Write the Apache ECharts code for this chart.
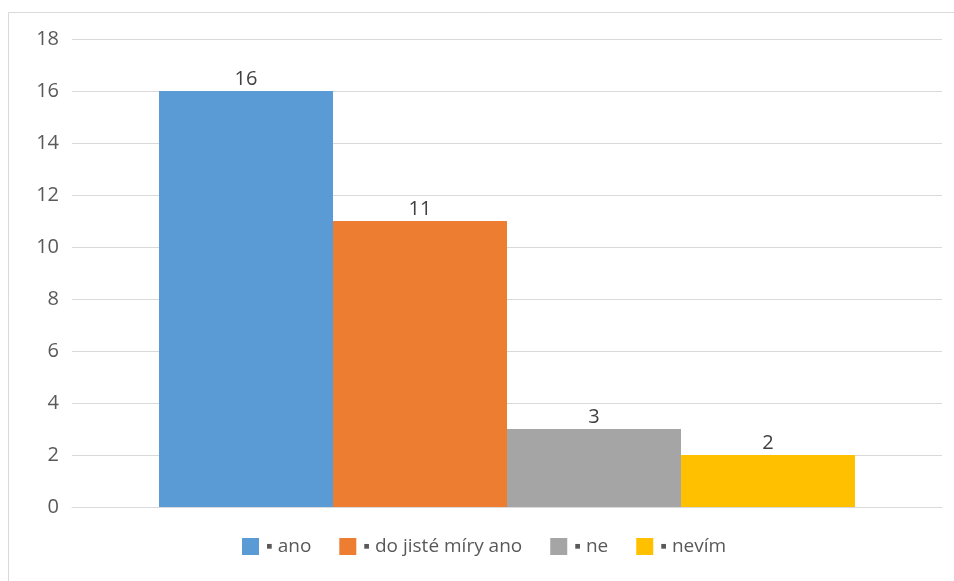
<!DOCTYPE html>
<html>
<head>
<meta charset="utf-8">
<script src="https://cdn.jsdelivr.net/npm/echarts@6/dist/echarts.min.js"></script>
<style>html,body{margin:0;padding:0;background:#fff;}#c{width:954px;height:581px;}</style>
</head>
<body>
<div id="c"></div>
<script>
const categories = [''];
const seriesNames = ['▪ ano', '▪ do jisté míry ano', '▪ ne', '▪ nevím'];
const seriesValues = [16, 11, 3, 2];
const seriesColors = ['#5b9bd5', '#ed7d31', '#a5a5a5', '#ffc000'];
const yTicks = [0, 2, 4, 6, 8, 10, 12, 14, 16, 18];

const chart = echarts.init(document.getElementById('c'));
const font = '"Open Sans", sans-serif';
chart.setOption({
  animation: false,
  backgroundColor: '#fff',
  graphic: [{
    type: 'rect', silent: true,
    shape: { x: 8.5, y: 12.5, width: 1000, height: 1000 },
    style: { fill: 'none', stroke: '#d9d9d9', lineWidth: 1 }
  }],
  grid: { left: 72, right: 12, top: 39, bottom: 74, containLabel: false },
  legend: {
    bottom: 20, left: 237,
    itemWidth: 17, itemHeight: 17, itemGap: 28,
    icon: 'rect',
    textStyle: { color: '#595959', fontSize: 19, fontFamily: font, padding: [0, 0, 0, 2] },
    data: seriesNames
  },
  xAxis: {
    type: 'category', data: categories,
    axisLine: { lineStyle: { color: '#d9d9d9' } },
    axisTick: { show: false }, axisLabel: { show: false }
  },
  yAxis: {
    type: 'value', min: yTicks[0], max: yTicks[yTicks.length - 1], interval: 2,
    axisLine: { show: false }, axisTick: { show: false },
    axisLabel: { color: '#595959', fontSize: 20, fontFamily: font, margin: 13 },
    splitLine: { lineStyle: { color: '#d9d9d9' } }
  },
  series: seriesNames.map((n, i) => ({
    name: n, type: 'bar', data: [seriesValues[i]],
    barGap: '0%', barCategoryGap: '20%',
    itemStyle: { color: seriesColors[i] },
    label: { show: true, position: 'top', color: '#404040', fontSize: 20, fontFamily: font, distance: 2 }
  }))
});
</script>
</body>
</html>
